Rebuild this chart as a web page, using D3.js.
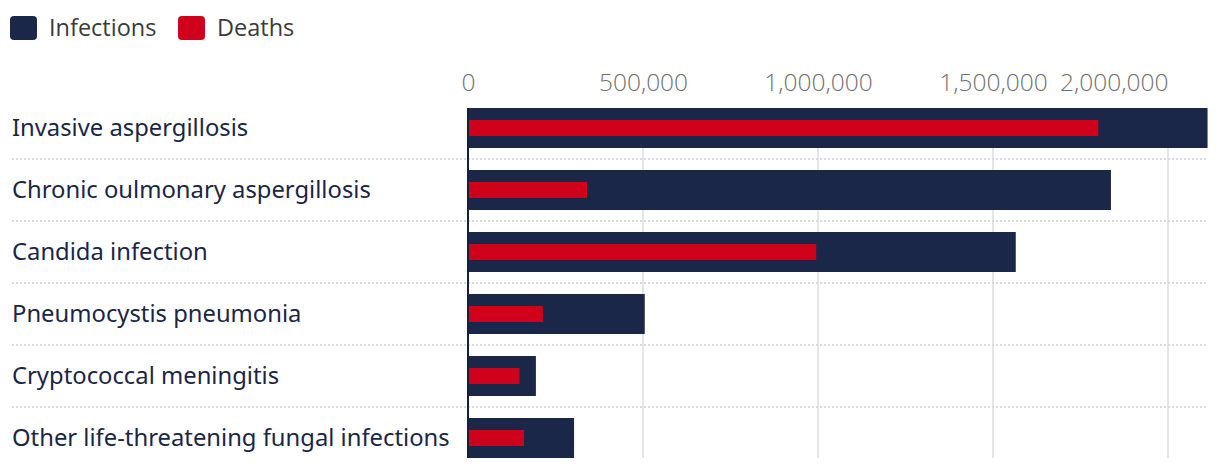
<!DOCTYPE html>
<html>
<head>
<meta charset="utf-8">
<script src="https://cdn.jsdelivr.net/npm/d3@7"></script>
<style>
  html, body { margin: 0; padding: 0; background: #fff; }
  svg { display: block; }
</style>
</head>
<body>
<svg id="chart" width="1220" height="468"></svg>
<script>
const categories = [
  "Invasive aspergillosis",
  "Chronic oulmonary aspergillosis",
  "Candida infection",
  "Pneumocystis pneumonia",
  "Cryptococcal meningitis",
  "Other life-threatening fungal infections"
];
const infections = [2113000, 1837000, 1565000, 505000, 194000, 303000];
const deaths = [1801000, 340000, 995000, 214000, 147000, 160000];
const tickValues = [0, 500000, 1000000, 1500000, 2000000];
const seriesNames = ["Infections", "Deaths"];
const seriesColors = ["#1b2748", "#d0021b"];

(function () {
const svg = d3.select("#chart");
const plotLeft = 468, plotRight = 1207.55, plotTop = 108, plotBottom = 458;

const x = d3.scaleLinear().domain([0, d3.max(infections)]).range([plotLeft, plotRight]);
const y = d3.scaleBand().domain(categories).range([plotTop, plotBottom])
  .paddingInner(22 / 62).paddingOuter(0);

// gridlines
svg.append("g").selectAll("line").data(tickValues.filter(d => d > 0)).join("line")
  .attr("x1", d => x(d)).attr("x2", d => x(d))
  .attr("y1", plotTop).attr("y2", plotBottom)
  .attr("stroke", "#e6e6e6").attr("stroke-width", 2);

// dotted separators
svg.append("g").selectAll("line").data(categories.slice(1)).join("line")
  .attr("x1", 12).attr("x2", 1208)
  .attr("y1", d => y(d) - y.step() * y.paddingInner() / 2)
  .attr("y2", d => y(d) - y.step() * y.paddingInner() / 2)
  .attr("stroke", "#dadada").attr("stroke-width", 2)
  .attr("stroke-dasharray", "2,2");

// infection bars
svg.append("g").selectAll("rect").data(categories).join("rect")
  .attr("x", x(0))
  .attr("y", d => y(d))
  .attr("width", (d, i) => x(infections[i]) - x(0))
  .attr("height", y.bandwidth())
  .attr("fill", seriesColors[0]);

// death bars
const dh = 16;
svg.append("g").selectAll("rect").data(categories).join("rect")
  .attr("x", x(0))
  .attr("y", d => y(d) + (y.bandwidth() - dh) / 2)
  .attr("width", (d, i) => x(deaths[i]) - x(0))
  .attr("height", dh)
  .attr("fill", seriesColors[1]);

// axis line
svg.append("line")
  .attr("x1", x(0)).attr("x2", x(0))
  .attr("y1", plotTop).attr("y2", plotBottom)
  .attr("stroke", "#14213d").attr("stroke-width", 2);

// top axis labels
const axisG = svg.append("g").attr("transform", "translate(0,91)")
  .call(d3.axisTop(x).tickValues(tickValues).tickSize(0).tickFormat(d3.format(",")));
axisG.select(".domain").remove();
axisG.selectAll("text")
  .attr("y", 0).attr("dy", 0)
  .attr("font-family", "'Open Sans', 'Noto Sans', sans-serif")
  .attr("font-weight", 300)
  .attr("font-size", 24.5)
  .attr("fill", "#707070")
  .attr("text-anchor", (d, i) => i === tickValues.length - 1 ? "end" : "middle");

// category labels
svg.append("g").selectAll("text").data(categories).join("text")
  .attr("x", 12)
  .attr("y", d => y(d) + y.bandwidth() / 2)
  .attr("dy", "0.35em")
  .attr("font-family", "'Noto Sans', 'Open Sans', sans-serif")
  .attr("font-size", 23.8)
  .attr("fill", "#1b2646")
  .text(d => d);

// legend
const legendX = [10, 178];
const lg = svg.append("g").selectAll("g").data(seriesNames).join("g")
  .attr("transform", (d, i) => `translate(${legendX[i]},16)`);
lg.append("rect").attr("width", 27).attr("height", 24).attr("rx", 4)
  .attr("fill", (d, i) => seriesColors[i]);
lg.append("text").attr("x", 39).attr("y", 20)
  .attr("font-family", "'Open Sans', 'Noto Sans', sans-serif")
  .attr("font-size", 23.5)
  .attr("fill", "#3a3a3a")
  .text(d => d);
})();
</script>
</body>
</html>
